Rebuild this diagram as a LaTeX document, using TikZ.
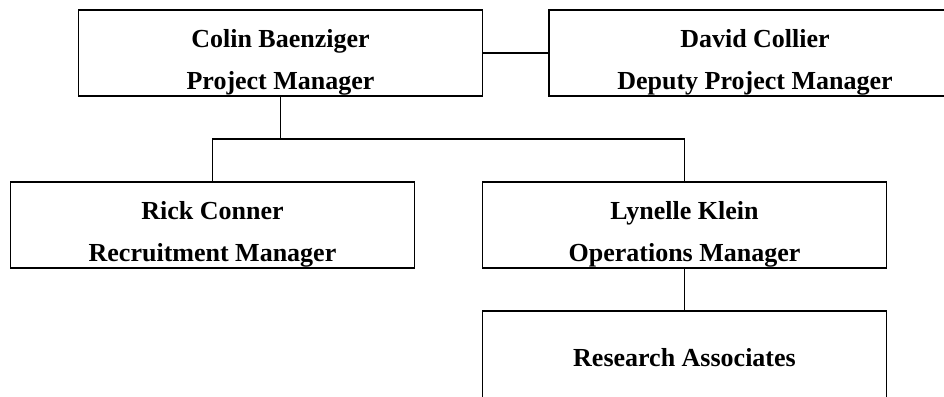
\documentclass[tikz,border=0pt]{standalone}
\usepackage{fontspec}
\setmainfont{Liberation Serif}
\newlength{\du}
\setlength{\du}{1pt}
\newcommand{\toprule}{\rule{0pt}{36\du}}
\newcommand{\botrule}{\rule[-6\du]{0pt}{6\du}}
\tikzset{
  orgbox/.style={draw, minimum width=404\du, minimum height=86\du, inner sep=0pt,
    align=center, font=\fontsize{26}{42}\selectfont\bfseries},
  orgline/.style={draw},
}
\begin{document}
\begin{tikzpicture}
\pgftransformxscale{1.000000}
\pgftransformyscale{-1.000000}
\definecolor{dialinecolor}{rgb}{0.000000, 0.000000, 0.000000}
\pgfsetstrokecolor{dialinecolor}
\pgfsetlinewidth{1.800000\du}
\fill[white] (0\du,0\du) rectangle (944\du,396\du);
\clip (0\du,0\du) rectangle (944\du,396\du);
% boxes
\node[orgbox] (colin) at (280.500000\du,53.000000\du){\toprule Colin Baenziger\\\botrule Project Manager};
\node[orgbox, minimum width=412\du] (david) at (755.000000\du,53.000000\du){\toprule David Collier\\\botrule Deputy Project Manager};
\node[orgbox] (rick) at (212.500000\du,225.000000\du){\toprule Rick Conner\\\botrule Recruitment Manager};
\node[orgbox] (lynelle) at (684.500000\du,225.000000\du){\toprule Lynelle Klein\\\botrule Operations Manager};
\node[orgbox, minimum height=92\du] (research) at (684.500000\du,357.000000\du){\rule[-6\du]{0pt}{30\du}Research Associates};
% connectors
\coordinate (bus) at (280.500000\du,139.000000\du);
\draw[orgline] (colin.east)--(david.west);
\draw[orgline] (colin.south)--(bus);
\draw[orgline] (rick.north)|-(bus)-|(lynelle.north);
\draw[orgline] (lynelle.south)--(research.north);
\end{tikzpicture}
\end{document}
